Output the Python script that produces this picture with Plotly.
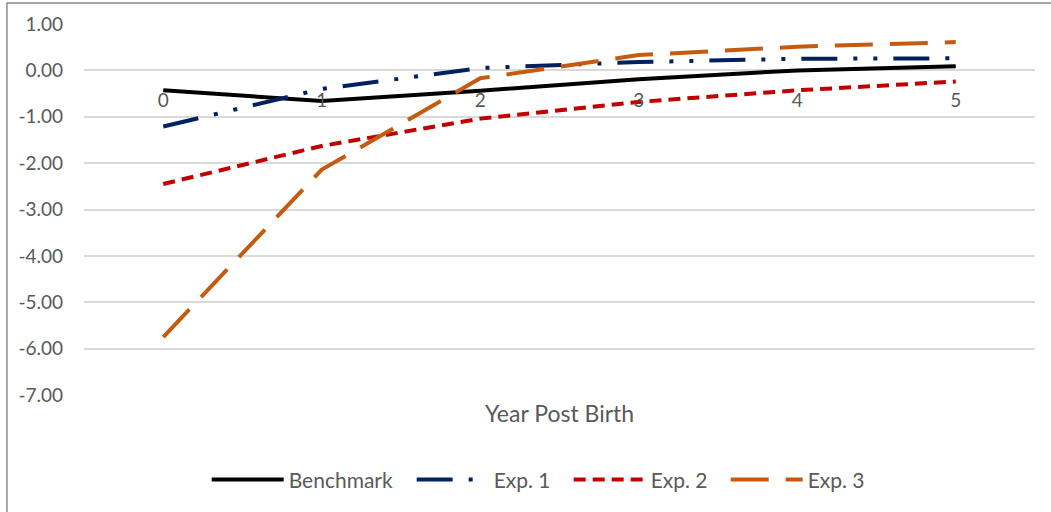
import plotly.graph_objects as go

years = [0, 1, 2, 3, 4, 5]
benchmark = [-0.43, -0.66, -0.44, -0.19, 0.00, 0.09]
exp1 = [-1.21, -0.40, 0.05, 0.18, 0.25, 0.26]
exp2 = [-2.45, -1.63, -1.04, -0.68, -0.43, -0.24]
exp3 = [-5.75, -2.14, -0.17, 0.33, 0.51, 0.61]
y_ticks = [1, 0, -1, -2, -3, -4, -5, -6, -7]
y_tick_text = ["1.00", "0.00", "-1.00", "-2.00", "-3.00", "-4.00", "-5.00", "-6.00", "-7.00"]

FONT = "Lato"
GRAY = "#595959"
LW = 4

fig = go.Figure()
fig.add_trace(go.Scatter(x=years, y=benchmark, name="Benchmark", mode="lines",
                         legendwidth=118,
                         line=dict(color="#000000", width=LW)))
fig.add_trace(go.Scatter(x=years, y=exp1, name="Exp. 1", mode="lines",
                         legendwidth=70,
                         line=dict(color="#002060", width=LW,
                                   dash="36px,16px,4px,16px,4px,16px")))
fig.add_trace(go.Scatter(x=years, y=exp2, name="Exp. 2", mode="lines",
                         legendwidth=70,
                         line=dict(color="#C00000", width=LW, dash="12px,7px")))
fig.add_trace(go.Scatter(x=years, y=exp3, name="Exp. 3", mode="lines",
                         legendwidth=70,
                         line=dict(color="#C55A11", width=LW, dash="38px,17px")))

fig.update_layout(
    width=1051, height=512,
    margin=dict(l=84, r=16, t=24, b=117, autoexpand=False),
    paper_bgcolor="white", plot_bgcolor="white",
    font=dict(family=FONT, color=GRAY, size=19),
    showlegend=True,
    legend=dict(orientation="h", x=0.129, xanchor="left", y=-0.229, yanchor="middle",
                font=dict(family=FONT, size=21, color=GRAY), traceorder="normal",
                itemwidth=72),
    xaxis=dict(range=[-0.5, 5.5], tickmode="array", tickvals=years,
               ticktext=[str(v) for v in years],
               showgrid=False, zeroline=False, showline=False,
               anchor="free", position=0.875, ticklabelstandoff=17,
               tickfont=dict(family=FONT, size=19, color=GRAY)),
    yaxis=dict(range=[-7, 1], domain=[0, 1], tickmode="array", tickvals=y_ticks,
               ticktext=y_tick_text, showgrid=True, gridcolor="#D9D9D9", gridwidth=1.5,
               zeroline=False, showline=False, ticklabelstandoff=20,
               tickfont=dict(family=FONT, size=19, color=GRAY)),
    annotations=[dict(text="Year Post Birth", xref="paper", yref="paper", x=0.5, y=-0.0485,
                      xanchor="center", yanchor="middle", showarrow=False,
                      font=dict(family=FONT, size=23, color=GRAY))],
    shapes=[dict(type="rect", xref="paper", yref="paper", x0=-0.081, x1=1.3, y0=-0.6, y1=1.0566,
                 line=dict(color="#8C8C8C", width=1.5), fillcolor="rgba(0,0,0,0)", layer="below")],
)

fig.write_html("out.html", config={"displayModeBar": False},
               post_script="document.body.style.margin='0px';")
